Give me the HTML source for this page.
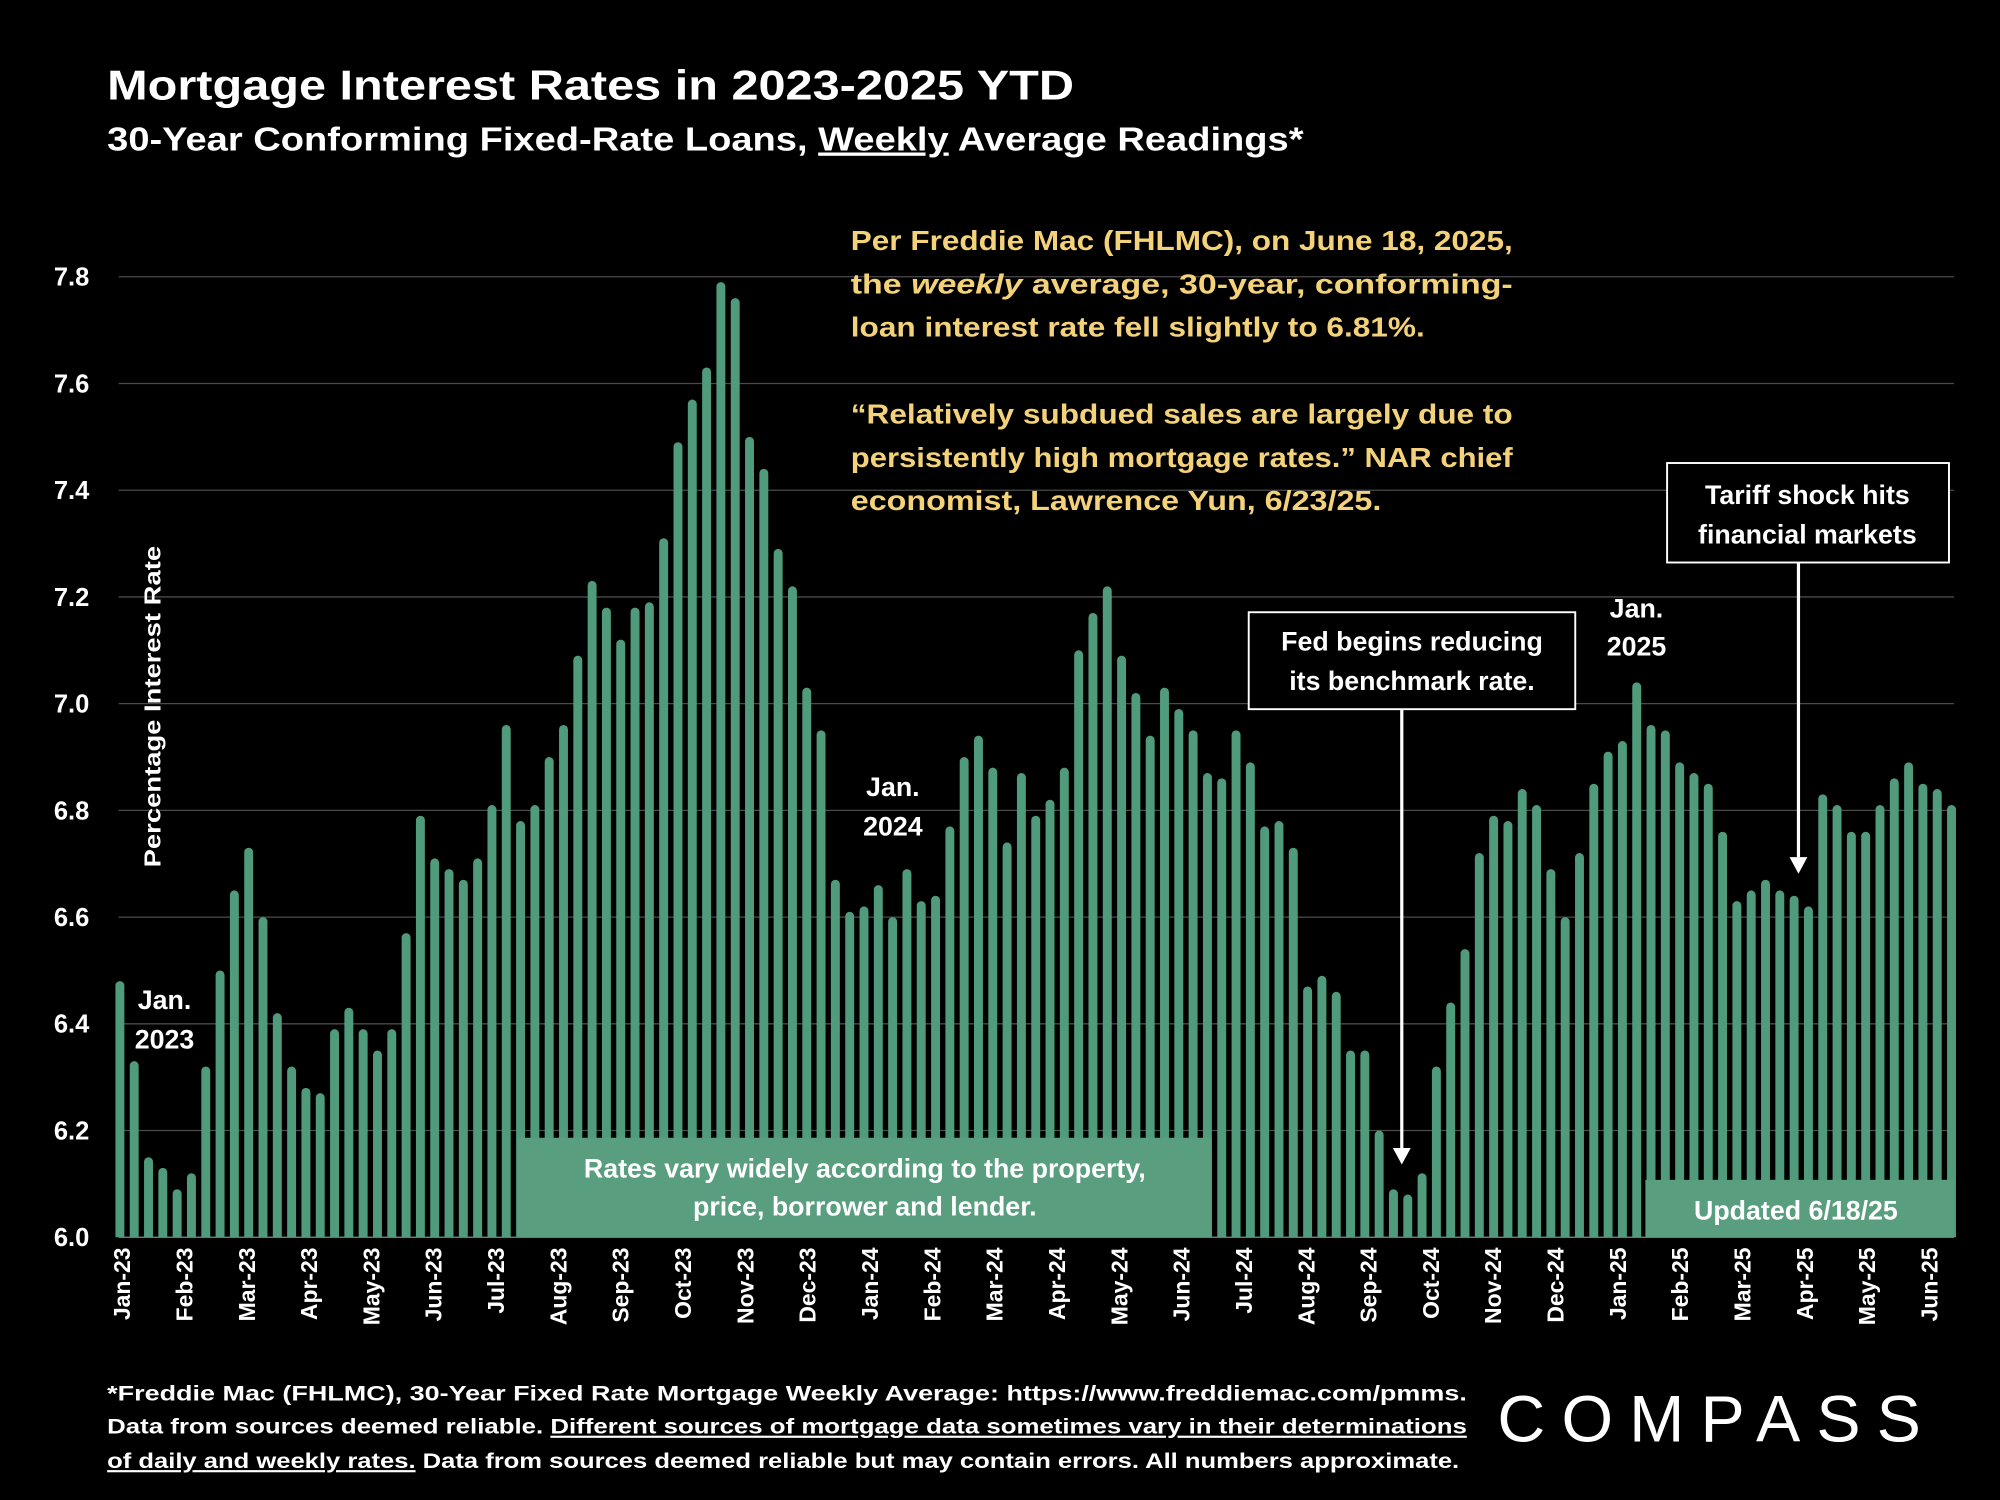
<!DOCTYPE html>
<html><head><meta charset="utf-8"><style>
html,body{margin:0;padding:0;background:#000;}
svg{display:block;}
text{font-family:"Liberation Sans",sans-serif;font-weight:bold;}
</style></head><body>
<svg id="chart" width="2000" height="1500" viewBox="0 0 1568 1176" xmlns="http://www.w3.org/2000/svg">
<rect width="1568" height="1176" fill="#000"/>
<text x="84" y="78" fill="#fff" font-size="33" textLength="758" lengthAdjust="spacingAndGlyphs">Mortgage Interest Rates in 2023-2025 YTD</text>
<text x="84" y="118" fill="#fff" font-size="26" textLength="938" lengthAdjust="spacingAndGlyphs">30-Year Conforming Fixed-Rate Loans, <tspan text-decoration="underline">Weekly</tspan> Average Readings*</text>
<g id="grid"></g>
<g id="bars"></g>
<g id="yticks"></g>
<g id="xticks"></g>
<text transform="translate(126,680) rotate(-90)" fill="#fff" font-size="18" textLength="252" lengthAdjust="spacingAndGlyphs">Percentage Interest  Rate</text>
<g fill="#f4d27a" font-size="22">
<text x="667" y="196" textLength="519" lengthAdjust="spacingAndGlyphs">Per Freddie Mac (FHLMC), on June 18, 2025,</text>
<text x="667" y="230" textLength="519" lengthAdjust="spacingAndGlyphs">the <tspan font-style="italic">weekly</tspan>  average,  30-year,  conforming-</text>
<text x="667" y="264" textLength="450" lengthAdjust="spacingAndGlyphs">loan interest rate fell slightly to 6.81%.</text>
<text x="667" y="332" textLength="519" lengthAdjust="spacingAndGlyphs">“Relatively subdued sales are largely due to</text>
<text x="667" y="366" textLength="519" lengthAdjust="spacingAndGlyphs">persistently high mortgage rates.” NAR chief</text>
<text x="667" y="400" textLength="416" lengthAdjust="spacingAndGlyphs">economist, Lawrence Yun, 6/23/25.</text>
</g>
<g fill="#fff" font-size="21" text-anchor="middle">
<text x="129" y="791">Jan.</text>
<text x="129" y="822">2023</text>
<text x="700" y="624">Jan.</text>
<text x="700" y="655">2024</text>
<text x="1283" y="484">Jan.</text>
<text x="1283" y="514">2025</text>
</g>
<g>
<rect x="979" y="480" width="256" height="76" fill="#000" stroke="#fff" stroke-width="1.5"/>
<text x="1107" y="510" fill="#fff" font-size="21" text-anchor="middle">Fed begins reducing</text>
<text x="1107" y="541" fill="#fff" font-size="21" text-anchor="middle">its benchmark rate.</text>
<line x1="1099" y1="556" x2="1099" y2="900" stroke="#fff" stroke-width="2.5"/>
<polygon points="1092,900 1106,900 1099,913" fill="#fff"/>
</g>
<g>
<rect x="1307" y="363" width="221" height="78" fill="#000" stroke="#fff" stroke-width="1.5"/>
<text x="1417" y="395" fill="#fff" font-size="21" text-anchor="middle">Tariff shock hits</text>
<text x="1417" y="426" fill="#fff" font-size="21" text-anchor="middle">financial markets</text>
<line x1="1410" y1="441" x2="1410" y2="672" stroke="#fff" stroke-width="2.5"/>
<polygon points="1403,672 1417,672 1410,685" fill="#fff"/>
</g>
<g>
<rect x="406" y="892" width="544" height="78" fill="#5a9e80"/>
<text x="678" y="923" fill="#fff" font-size="21" text-anchor="middle">Rates vary widely according to the property,</text>
<text x="678" y="953" fill="#fff" font-size="21" text-anchor="middle">price, borrower and lender.</text>
</g>
<g>
<rect x="1290" y="925" width="242" height="45" fill="#5a9e80"/>
<text x="1408" y="956" fill="#fff" font-size="21" text-anchor="middle">Updated 6/18/25</text>
</g>
<g fill="#fff" font-size="17">
<text x="84" y="1098" textLength="1066" lengthAdjust="spacingAndGlyphs">*Freddie Mac (FHLMC), 30-Year Fixed Rate Mortgage Weekly Average:  https://www.freddiemac.com/pmms.</text>
<text x="84" y="1124" textLength="1066" lengthAdjust="spacingAndGlyphs">Data from sources deemed reliable. <tspan text-decoration="underline">Different sources of mortgage data sometimes vary in their determinations</tspan></text>
<text x="84" y="1151" textLength="1060" lengthAdjust="spacingAndGlyphs"><tspan text-decoration="underline">of daily and weekly rates.</tspan> Data from sources deemed reliable but may contain errors. All numbers approximate.</text>
</g>
<text x="1174" y="1130" fill="#fff" font-size="52" style="font-weight:normal" textLength="332" lengthAdjust="spacing">COMPASS</text>
</svg>
<script>
const rates2023 = [6.48,6.33,6.15,6.13,6.09,6.12,6.32,6.50,6.65,6.73,6.60,6.42,6.32,6.28,6.27,6.39,6.43,6.39,6.35,6.39,6.57,6.79,6.71,6.69,6.67,6.71,6.81,6.96,6.78,6.81,6.90,6.96,7.09,7.23,7.18,7.12,7.18,7.19,7.31,7.49,7.57,7.63,7.79,7.76,7.50,7.44,7.29,7.22,7.03,6.95,6.67,6.61];
const rates2024 = [6.62,6.66,6.60,6.69,6.63,6.64,6.77,6.90,6.94,6.88,6.74,6.87,6.79,6.82,6.88,7.10,7.17,7.22,7.09,7.02,6.94,7.03,6.99,6.95,6.87,6.86,6.95,6.89,6.77,6.78,6.73,6.47,6.49,6.46,6.35,6.35,6.20,6.09,6.08,6.12,6.32,6.44,6.54,6.72,6.79,6.78,6.84,6.81,6.69,6.60,6.72,6.85];
const rates2025 = [6.91,6.93,7.04,6.96,6.95,6.89,6.87,6.85,6.76,6.63,6.65,6.67,6.65,6.64,6.62,6.83,6.81,6.76,6.76,6.81,6.86,6.89,6.85,6.84,6.81];
const monthLabels = ["Jan-23","Feb-23","Mar-23","Apr-23","May-23","Jun-23","Jul-23","Aug-23","Sep-23","Oct-23","Nov-23","Dec-23","Jan-24","Feb-24","Mar-24","Apr-24","May-24","Jun-24","Jul-24","Aug-24","Sep-24","Oct-24","Nov-24","Dec-24","Jan-25","Feb-25","Mar-25","Apr-25","May-25","Jun-25"];
const yTickValues = [6.0,6.2,6.4,6.6,6.8,7.0,7.2,7.4,7.6,7.8];

const NS = "http://www.w3.org/2000/svg";
const values = rates2023.concat(rates2024, rates2025);
const yMin = 6.0, yMax = 7.8, yBase = 970, yTop = 217;
function yScale(v){ return yBase - (v - yMin) / (yMax - yMin) * (yBase - yTop); }
const xFirst = 94, xLast = 1530;
function xScale(i){ return xFirst + i * (xLast - xFirst) / (values.length - 1); }
function monthX(m){ return 95 + m * (1512 - 95) / (monthLabels.length - 1); }
function mk(tag, attrs, parent){ const e = document.createElementNS(NS, tag); for (const k in attrs) e.setAttribute(k, attrs[k]); parent.appendChild(e); return e; }

const grid = document.getElementById('grid');
const yt = document.getElementById('yticks');
yTickValues.forEach(v => {
  const y = yScale(v);
  const l = mk('line', {x1: 93, x2: 1532, y1: y, y2: y, stroke: v === yMin ? '#888' : '#4a4a4a', 'stroke-width': 1}, grid);
  
  
  const t = mk('text', {x: 70, y: y + 7, fill: '#fff', 'font-size': 20, 'text-anchor': 'end'}, yt);
  t.textContent = v.toFixed(1);
  
  
});
const bars = document.getElementById('bars');
values.forEach((v, i) => {
  const x = xScale(i) - 3.5, y = yScale(v);
  const b = mk('path', {d: `M${x},${yBase} V${y+3.5} a3.5,3.5 0 0 1 7,0 V${yBase} Z`, fill: '#4f9b7c'}, bars);
  
  
});
const xt = document.getElementById('xticks');
monthLabels.forEach((m, i) => {
  const x = monthX(i);
  const t = mk('text', {transform: `translate(${x + 7},978) rotate(-90)`, fill: '#fff', 'font-size': 18, 'text-anchor': 'end'}, xt);
  t.textContent = m;
  
  
});
</script>
</body></html>
